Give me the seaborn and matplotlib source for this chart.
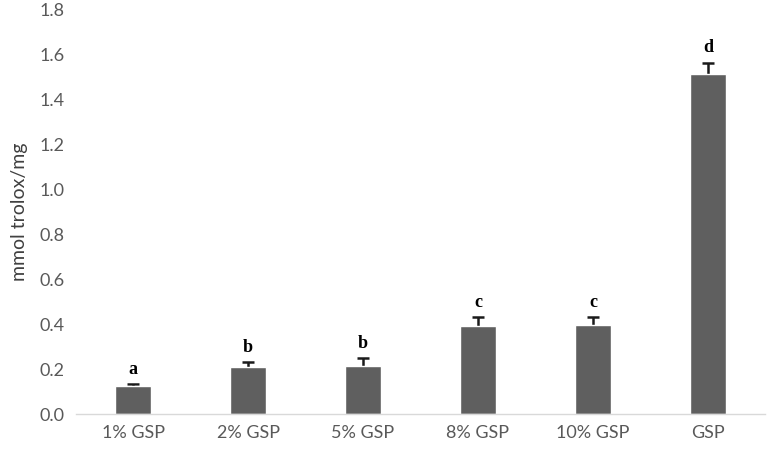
import pandas as pd
import numpy as np
import matplotlib
matplotlib.use("Agg")
import matplotlib.pyplot as plt
import seaborn as sns

groups = ["1% GSP", "2% GSP", "5% GSP", "8% GSP", "10% GSP", "GSP"]
means = [0.125, 0.209, 0.215, 0.392, 0.397, 1.510]
errors = [0.007, 0.021, 0.032, 0.037, 0.033, 0.052]
letters = ["a", "b", "b", "c", "c", "d"]

df = pd.DataFrame({"group": groups, "value": means})

sns.set_theme(style="white")
plt.rcParams["font.family"] = ["Lato", "DejaVu Sans"]

fig = plt.figure(figsize=(7.73, 4.51), dpi=100)
ax = fig.add_axes([0.098, 0.082, 0.892, 0.898])

sns.barplot(data=df, x="group", y="value", color="#5f5f5f", width=0.31,
            saturation=1, ax=ax, zorder=2)
x = np.arange(len(groups))
# upper-only error bars
eb = ax.errorbar(x, means, yerr=[np.zeros(len(means)), errors], fmt="none",
                 ecolor="#1a1a1a", elinewidth=1.8, capsize=4, capthick=1.8,
                 zorder=1)
eb[1][0].set_visible(False)  # hide the cap sitting on the bar top

for xi, m, e, lab in zip(x, means, errors, letters):
    ax.text(xi, m + e + 0.03, lab, ha="center", va="bottom", fontsize=13,
            fontweight="bold", family=["Liberation Serif"], color="black")

ax.set_ylim(0, 1.8)
ax.set_yticks(np.arange(0, 1.81, 0.2))
ax.set_yticklabels([f"{v:.1f}" for v in np.arange(0, 1.81, 0.2)])
ax.set_xlim(-0.5, len(groups) - 0.5)
ax.set_xlabel("")
ax.set_ylabel("mmol trolox/mg", fontsize=14, color="#404040", labelpad=8)
ax.tick_params(axis="both", colors="#595959", labelsize=13, length=0, pad=8)
for s in ["top", "right", "left"]:
    ax.spines[s].set_visible(False)
ax.spines["bottom"].set_color("#d9d9d9")
ax.spines["bottom"].set_linewidth(1)

fig.savefig("out.png", dpi=100)
